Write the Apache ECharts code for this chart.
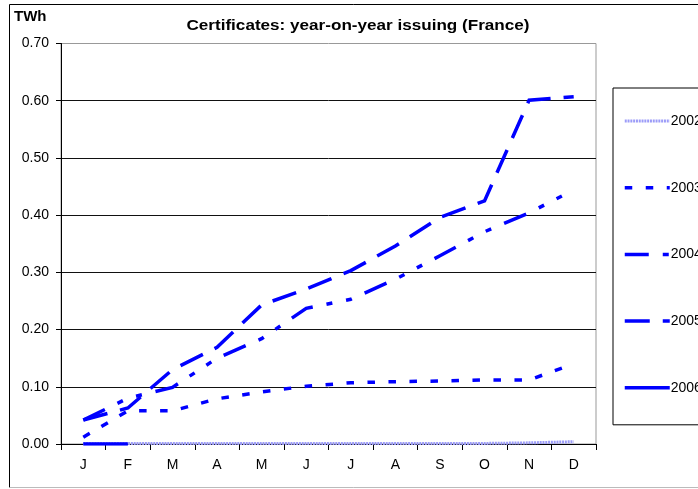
<!DOCTYPE html>
<html>
<head>
<meta charset="utf-8">
<script src="https://cdn.jsdelivr.net/npm/echarts@6/dist/echarts.min.js"></script>
<style>
html,body{margin:0;padding:0;background:#fff;}
#c{width:698px;height:489px;}
</style>
</head>
<body>
<div id="c"></div>
<script>
var months = ['J','F','M','A','M','J','J','A','S','O','N','D'];
var yTicks = [0, 0.1, 0.2, 0.3, 0.4, 0.5, 0.6, 0.7];
var seriesNames = ['2002','2003','2004','2005','2006'];
var v2002 = [0.001,0.001,0.001,0.001,0.001,0.001,0.001,0.001,0.001,0.001,0.002,0.004];
var v2003 = [0.012,0.058,0.058,0.079,0.091,0.101,0.107,0.109,0.110,0.112,0.112,0.140];
var v2004 = [0.042,0.080,0.099,0.150,0.184,0.237,0.253,0.288,0.329,0.371,0.404,0.444];
var v2005 = [0.042,0.063,0.130,0.169,0.243,0.271,0.303,0.346,0.396,0.425,0.601,0.607];
var v2006 = [0.000,0.000,null,null,null,null,null,null,null,null,null,null];
var titleText = 'Certificates: year-on-year issuing (France)';
var unitText = 'TWh';

var FONT = '"Liberation Sans", Arial, sans-serif';
var chart = echarts.init(document.getElementById('c'), null, {renderer:'canvas'});

var styles = [
  {color: '#9c9cf8', width: 3, type: [2, 0.8]},
  {color: '#0000ff', width: 3.5, type: [7.5, 13.5]},
  {color: '#0000ff', width: 3.5, type: [24, 14, 6, 14, 6, 14]},
  {color: '#0000ff', width: 3.5, type: [25, 13]},
  {color: '#0000ff', width: 3.5, type: 'solid'}
];
var seriesData = [v2002, v2003, v2004, v2005, v2006];

var series = seriesNames.map(function(n, i){
  var s = styles[i];
  return {
    name: n, type: 'line', data: seriesData[i], symbol: 'none', smooth: false,
    lineStyle: {color: s.color, width: s.width, type: s.type, cap: 'butt', join: 'miter'},
    itemStyle: {color: s.color},
    emphasis: {disabled: true}
  };
});
var legendData = seriesNames.map(function(n, i){
  var s = styles[i];
  return {name: n, lineStyle: {color: s.color, width: s.width, type: s.type, cap: 'butt'},
          itemStyle: {color: 'rgba(0,0,0,0)', borderWidth: 0}};
});

chart.setOption({
  animation: false,
  backgroundColor: '#fff',
  graphic: [
    {type: 'line', shape: {x1: 9.5, y1: 4.5, x2: 698, y2: 4.5}, style: {stroke: '#000', lineWidth: 1}, silent: true},
    {type: 'line', shape: {x1: 9.5, y1: 4.5, x2: 9.5, y2: 487.5}, style: {stroke: '#000', lineWidth: 1}, silent: true},
    {type: 'line', shape: {x1: 9.5, y1: 487.5, x2: 698, y2: 487.5}, style: {stroke: '#bbb', lineWidth: 1}, silent: true},
    {type: 'text', x: 358, y: 26, scaleX: 1.14, originX: 0, originY: 0,
     style: {text: titleText, font: 'bold 15px "Liberation Sans", Arial, sans-serif', fill: '#000',
             align: 'center', verticalAlign: 'middle'}, silent: true},
    {type: 'text', x: 14, y: 17,
     style: {text: unitText, font: 'bold 15px "Liberation Sans", Arial, sans-serif', fill: '#000',
             align: 'left', verticalAlign: 'middle'}, silent: true}
  ],
  grid: {left: 61, right: 102, top: 43.5, bottom: 45, show: true, borderColor: '#999', borderWidth: 1, containLabel: false},
  legend: {
    orient: 'vertical', left: 613, top: 88,
    padding: [26, 40, 30, 10],
    itemWidth: 45, itemHeight: 16, itemGap: 52.7,
    borderColor: '#000', borderWidth: 1,
    textStyle: {fontFamily: FONT, fontSize: 14, color: '#000', padding: [0,0,0,-4]},
    data: legendData
  },
  xAxis: {
    type: 'category', data: months, boundaryGap: true,
    axisLine: {lineStyle: {color: '#000', width: 1}},
    axisTick: {show: true, length: 6, lineStyle: {color: '#000'}},
    axisLabel: {fontFamily: FONT, fontSize: 14, color: '#000', margin: 14},
    splitLine: {show: false}
  },
  yAxis: {
    type: 'value', min: yTicks[0], max: yTicks[yTicks.length-1], interval: 0.1,
    axisLine: {show: true, lineStyle: {color: '#000', width: 1}},
    axisTick: {show: true, length: 5, lineStyle: {color: '#000'}},
    axisLabel: {fontFamily: FONT, fontSize: 14, color: '#000', margin: 12,
      formatter: function(v){ return v.toFixed(2); }},
    splitLine: {show: true, showMaxLine: false, lineStyle: {color: '#111', width: 1}}
  },
  series: series
});
</script>
</body>
</html>
